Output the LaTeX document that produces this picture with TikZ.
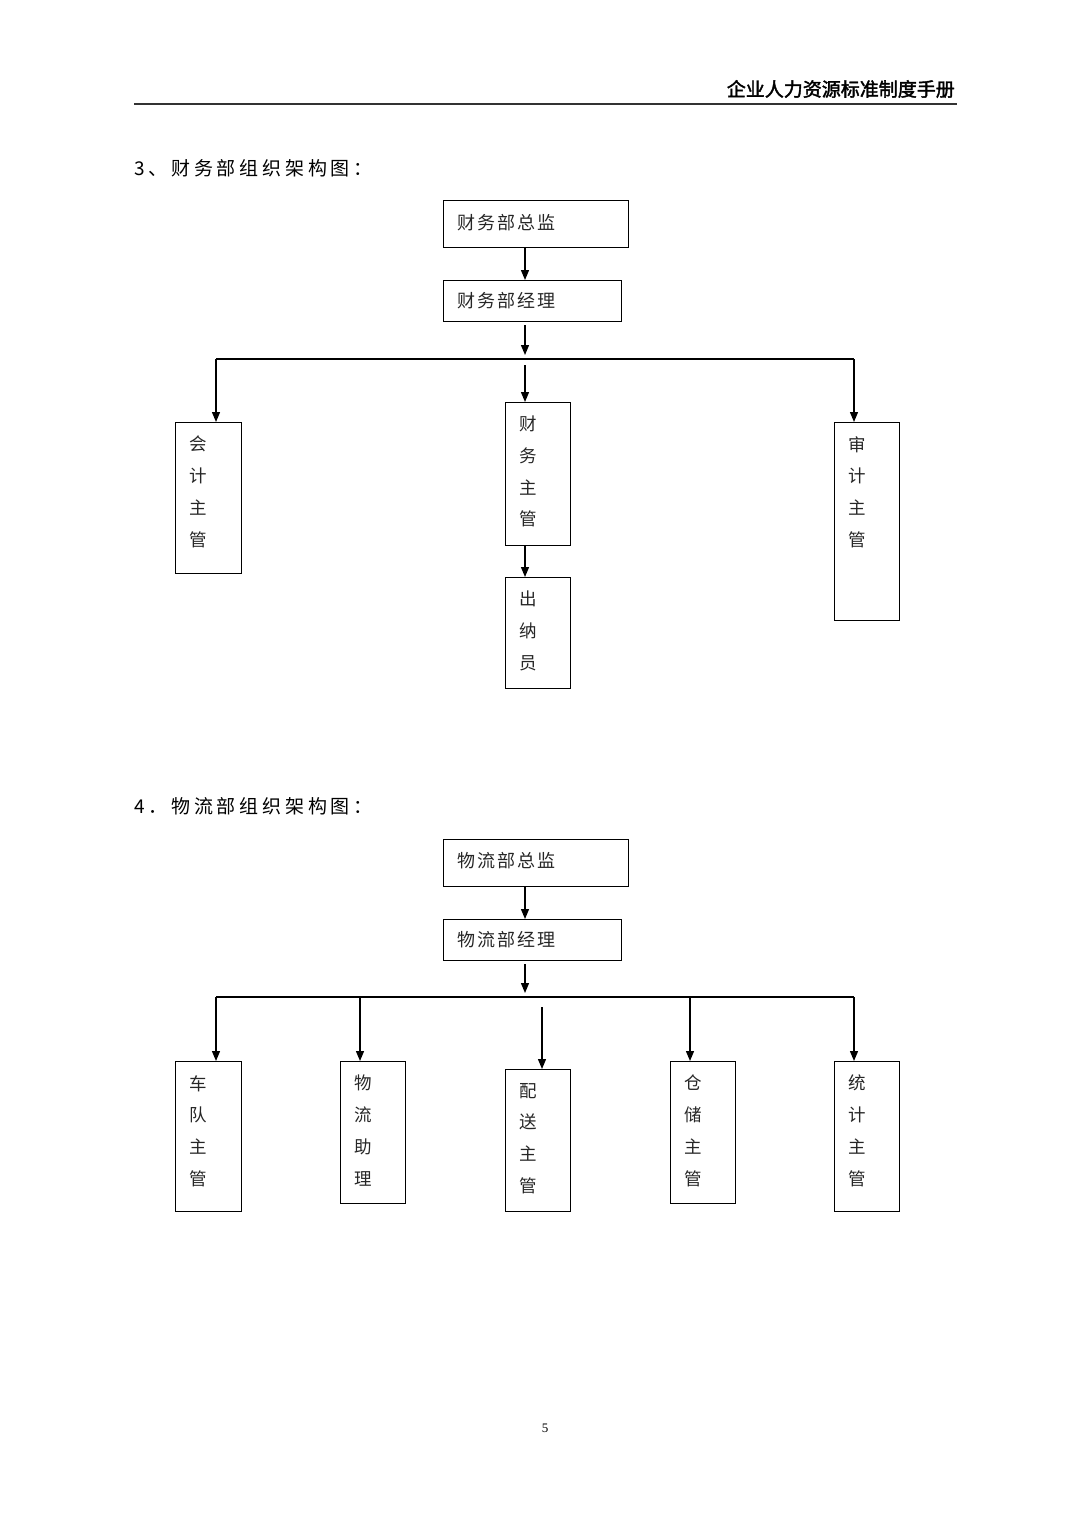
\documentclass[tikz,border=0pt]{standalone}
\usepackage{fontspec}
\newfontfamily\cjk{Noto Sans CJK SC}
\newfontfamily\cjkw[LetterSpace=11]{Noto Sans CJK SC}
\newfontfamily\cjkt[LetterSpace=20]{Noto Sans CJK SC}
\newfontfamily\cjkh[FakeBold=2]{Noto Sans CJK SC}
\setmainfont{Liberation Serif}
\usetikzlibrary{arrows.meta,calc}
\begin{document}
\begin{tikzpicture}[x=1pt,y=-1pt,
  box/.style={draw,line width=1.3pt,inner sep=0pt,anchor=north west},
  vtext/.style={font=\cjk\fontsize{17.5}{31.7}\selectfont,align=center,anchor=north,inner sep=0pt,text=black!85},
  htext/.style={font=\cjkw\fontsize{18}{20}\selectfont,anchor=west,inner sep=0pt,text=black!85},
  arr/.style={line width=1.3pt,-{Triangle[length=10pt,width=8pt]}},
  bus/.style={line width=1.3pt}]
\useasboundingbox (0,0) rectangle (1080,1527);
% header
\node[font=\cjkh\fontsize{19}{20}\selectfont,anchor=east,inner sep=0pt] (hdr) at (955,89) {企业人力资源标准制度手册};
\coordinate (hl) at (134,104); \coordinate (hr) at (957,104);
\draw[line width=1.5pt,black!80] (hl) -- (hr);
% section 3
\node[font=\cjkt\fontsize{19}{22}\selectfont,anchor=west,inner sep=0pt] (t3) at (134,168) {3、财务部组织架构图：};
\node[box,minimum width=185pt,minimum height=47pt] (zj) at (443,200) {};
\node[htext] at (457,223) {财务部总监};
\node[box,minimum width=178pt,minimum height=41pt] (jl) at (443,280) {};
\node[htext] at (457,301) {财务部经理};
\coordinate (c) at (525,0);
\draw[arr] (zj.south -| c) -- (jl.north -| c);
\coordinate (a1) at (525,325); \coordinate (a2) at (525,355);
\draw[arr] (a1) -- (a2);
\coordinate (bl) at (216,359); \coordinate (br) at (854,359);
\draw[bus] (bl) -- (br);
\node[box,minimum width=66pt,minimum height=151pt] (kj) at (175,422) {};
\node[vtext] at (198,436) {会\\计\\主\\管};
\node[box,minimum width=65pt,minimum height=143pt] (cw) at (505,402) {};
\node[vtext] at (528,416) {财\\务\\主\\管};
\node[box,minimum width=65pt,minimum height=111pt] (cn) at (505,577) {};
\node[vtext] at (528,591) {出\\纳\\员};
\node[box,minimum width=65pt,minimum height=198pt] (sj) at (834,422) {};
\node[vtext] at (857,436) {审\\计\\主\\管};
\draw[arr] (bl) -- (kj.north -| bl);
\draw[arr] (br) -- (sj.north -| br);
\coordinate (a3) at (525,365);
\draw[arr] (a3) -- (cw.north -| a3);
\draw[arr] (cw.south -| c) -- (cn.north -| c);
% section 4
\node[font=\cjkt\fontsize{19}{22}\selectfont,anchor=west,inner sep=0pt] (t4) at (134,806) {4．物流部组织架构图：};
\node[box,minimum width=185pt,minimum height=47pt] (wz) at (443,839) {};
\node[htext] at (457,861) {物流部总监};
\node[box,minimum width=178pt,minimum height=41pt] (wj) at (443,919) {};
\node[htext] at (457,940) {物流部经理};
\draw[arr] (wz.south -| c) -- (wj.north -| c);
\coordinate (b1) at (525,964); \coordinate (b2) at (525,993);
\draw[arr] (b1) -- (b2);
\coordinate (wl) at (216,997); \coordinate (wr) at (854,997);
\coordinate (w2) at (360,997); \coordinate (w4) at (690,997);
\draw[bus] (wl) -- (wr);
\node[box,minimum width=66pt,minimum height=150pt] (cd) at (175,1061) {};
\node[vtext] at (198,1075) {车\\队\\主\\管};
\node[box,minimum width=65pt,minimum height=142pt] (wlz) at (340,1061) {};
\node[vtext] at (363,1075) {物\\流\\助\\理};
\node[box,minimum width=65pt,minimum height=142pt] (ps) at (505,1069) {};
\node[vtext] at (528,1083) {配\\送\\主\\管};
\node[box,minimum width=65pt,minimum height=142pt] (cc) at (670,1061) {};
\node[vtext] at (693,1075) {仓\\储\\主\\管};
\node[box,minimum width=65pt,minimum height=150pt] (tj) at (834,1061) {};
\node[vtext] at (857,1075) {统\\计\\主\\管};
\draw[arr] (wl) -- (cd.north -| wl);
\draw[arr] (w2) -- (wlz.north -| w2);
\coordinate (p1) at (542,1007);
\draw[arr] (p1) -- (ps.north -| p1);
\draw[arr] (w4) -- (cc.north -| w4);
\draw[arr] (wr) -- (tj.north -| wr);
% page number
\node[font=\fontsize{13}{15}\selectfont,inner sep=0pt] (pg) at (545,1428) {5};
\end{tikzpicture}
\end{document}
